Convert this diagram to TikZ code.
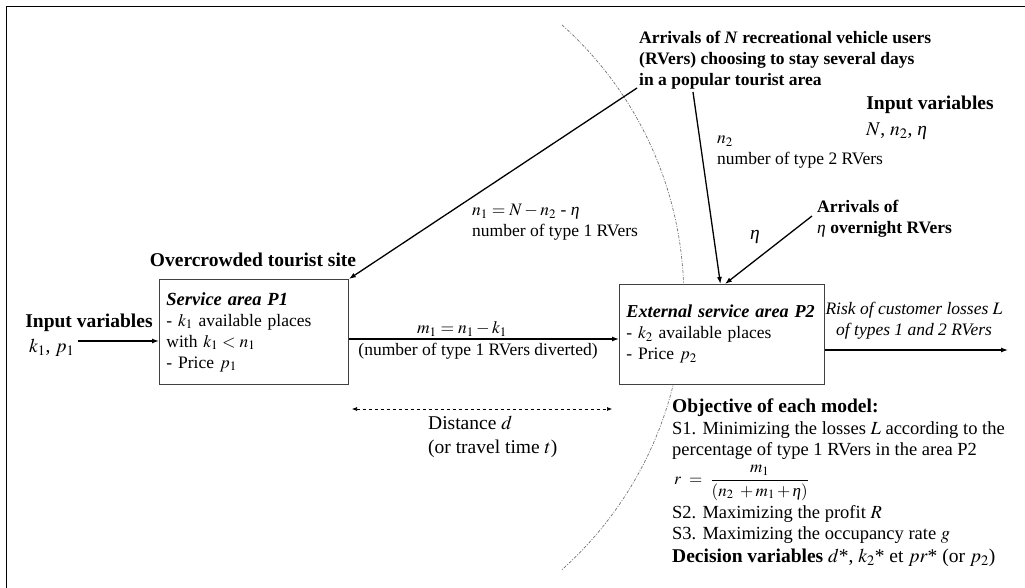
\documentclass[tikz,border=0pt]{standalone}
\usepackage{mathptmx}
\usepackage{fontspec}
\setmainfont{Liberation Serif}
\usetikzlibrary{calc,arrows.meta}
\newcommand{\regtxt}{\fontsize{17.5}{21}\selectfont}
\newcommand{\objtxt}{\fontsize{18.5}{21}\selectfont}
\newcommand{\bigtxt}{\fontsize{19.5}{24}\selectfont}
\newcommand{\etavar}{\mbox{\normalfont\itshape η}}
\tikzset{
  area/.style={draw=black!75, fill=white, line width=0.9pt, align=left, inner xsep=5pt, inner ysep=0pt, anchor=north west, font=\regtxt},
  flow/.style={-{Latex[length=7pt,width=5pt]}, line width=1.3pt},
  lbl/.style={inner sep=0pt, font=\regtxt},
  head/.style={inner sep=0pt, font=\bigtxt\bfseries},
}

\begin{document}
\begin{tikzpicture}[x=1pt,y=-1pt]
  \useasboundingbox (0,0) rectangle (1025,588);
  \draw[line width=1.8pt] (6.5,588) -- (6.5,6.5) -- (1025,6.5);
  \draw[black!55, line width=0.7pt, dash pattern=on 3pt off 1.5pt on 1pt off 1.5pt] (562,25) arc[start angle=-48.2, end angle=48.2, radius=365.3];

  \node[area, inner xsep=7pt, text width=175pt, minimum height=105pt] (P1) at (159,279) {{\fontsize{18.5}{21}\selectfont\textbf{\textit{Service area P1}}}\\- $k_1$ available places\\with $k_1 < n_1$\\- Price $p_1$};
  \node[area, text width=195pt, minimum height=100pt] (P2) at (619,284) {\hspace*{2pt}{\fontsize{18.2}{21}\selectfont\textbf{\textit{External service area P2}}}\\\hspace*{2pt}- $k_2$ available places\\\hspace*{2pt}- Price $p_2$};

  \node[head] (site) at (253,260) {Overcrowded tourist site};
  \node[head] (inL) at (89,323) {Input variables};
  \node[lbl, font=\bigtxt, anchor=west] (kp) at (29,348) {$k_1$, $p_1$};
  \coordinate (inS) at (78,341);
  \draw[flow] (inS) -- (P1.west |- inS);

  \coordinate (mrow) at (0,339);
  \draw[flow] (P1.east |- mrow) -- (P2.west |- mrow);
  \node[lbl] (m1) at (462,329) {$m_1 = n_1 - k_1$};
  \node[lbl] (div) at (478,351) {(number of type 1 RVers diverted)};

  \coordinate (dL) at (352,409);
  \coordinate (dR) at (612,409);
  \draw[{Latex[length=5pt,width=4pt]}-{Latex[length=5pt,width=4pt]}, dashed, line width=0.6pt] (dL) -- (dR);
  \node[lbl, font=\bigtxt, align=left, anchor=west] (dist) at (428,437) {Distance $d$\\(or travel time $t$)};

  \coordinate (out) at (1008,350);
  \draw[flow] (P2.east |- out) -- (out);
  \node[lbl, font=\regtxt\itshape, align=center] (risk) at (914,321) {Risk of customer losses $L$\\of types 1 and 2 RVers};

  \node[lbl, font=\regtxt\bfseries, align=left, anchor=west] (arrN) at (639,60) {Arrivals of \textit{N} recreational vehicle users\\(RVers) choosing to stay several days\\in a popular tourist area};
  \coordinate (a1) at (637,88);
  \coordinate (a2) at (693,92);
  \draw[flow] (a1) -- (P1.north east);
  \draw[flow] (a2) -- ([xshift=-1.5pt]P2.north);
  \node[lbl, align=left, anchor=west] (n1lbl) at (472,222.5) {$n_1 = N - n_2$ - \etavar\\number of type 1 RVers};
  \node[lbl, align=left, anchor=west] (n2lbl) at (717,152) {$n_2$\\number of type 2 RVers};

  \node[head] (inR) at (930,105) {Input variables};
  \node[lbl, font=\bigtxt, anchor=west] (vars) at (866,131) {$N$, $n_2$, \etavar};

  \node[lbl, font=\regtxt\bfseries, align=left, anchor=west] (arrEta) at (817,218.5) {Arrivals of\\\etavar{} overnight RVers};
  \coordinate (a3) at (812,216);
  \draw[flow] (a3) -- ([xshift=3pt]P2.north);
  \node[lbl, font=\bigtxt] (eta) at (755,237) {\etavar};

  \node[head, anchor=west] (obj) at (672,408) {Objective of each model:};
  \node[lbl, font=\objtxt, anchor=west, align=left] (s1) at (672,440.5) {S1. Minimizing the losses $L$ according to the\\percentage of type 1 RVers in the area P2};
  \node[lbl, font=\fontsize{17}{20}\selectfont, anchor=west] (ratio) at (674,483) {$r\ =\ \displaystyle\frac{m_1}{(n_2\ + m_1 + \mbox{\etavar})}$};
  \node[lbl, font=\objtxt, anchor=west] (s2) at (672,514) {S2. Maximizing the profit $R$};
  \node[lbl, font=\objtxt, anchor=west] (s3) at (672,535) {S3. Maximizing the occupancy rate $g$};
  \node[lbl, font=\bigtxt, anchor=west] (dec) at (672,558) {\textbf{Decision variables} $d$*, $k_2$* et $pr$* (or $p_2$)};
\end{tikzpicture}
\end{document}
